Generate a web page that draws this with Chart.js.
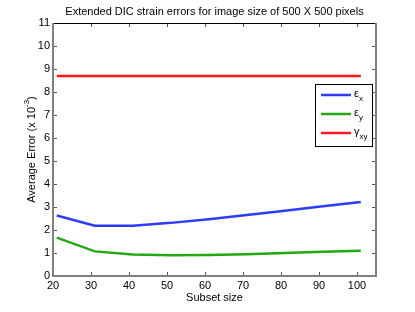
<!DOCTYPE html>
<html>
<head>
<meta charset="utf-8">
<script src="https://cdn.jsdelivr.net/npm/chart.js@4"></script>
<style>
  html, body { margin: 0; padding: 0; background: #fff; }
  #wrap { width: 415px; height: 312px; }
</style>
</head>
<body>
<div id="wrap"><canvas id="errChart" width="415" height="312"></canvas></div>
<script>
// data
const subsetSizes = [21, 31, 41, 51, 61, 71, 81, 91, 101];
const epsX = [2.63, 2.19, 2.19, 2.31, 2.47, 2.65, 2.84, 3.03, 3.22];
const epsY = [1.67, 1.07, 0.93, 0.90, 0.91, 0.95, 1.00, 1.05, 1.10];
const gammaXY = [8.70, 8.70, 8.70, 8.70, 8.70, 8.70, 8.70, 8.70, 8.70];
const xTicks = [20, 30, 40, 50, 60, 70, 80, 90, 100];
const yTicks = [0, 1, 2, 3, 4, 5, 6, 7, 8, 9, 10, 11];

const legendItems = [
    { sym: '\u03B5', sub: 'x', color: '#2b3cff' },
    { sym: '\u03B5', sub: 'y', color: '#22a811' },
    { sym: '\u03B3', sub: 'xy', color: '#ff1a1a' }
];

const FONT = '"Liberation Sans", Arial, sans-serif';

function toPoints(ys) {
    return subsetSizes.map((x, i) => ({ x: x, y: ys[i] }));
}

// frame, inward ticks, titles and the legend box, matlab style
const decorPlugin = {
    id: 'decor',
    afterDraw(chart) {
        const ctx = chart.ctx;
        const a = chart.chartArea;
        const xs = chart.scales.x;
        const ys = chart.scales.y;
        ctx.save();

        // ticks
        ctx.lineWidth = 1;
        ctx.strokeStyle = '#555';
        xTicks.forEach(v => {
            const px = Math.round(xs.getPixelForValue(v)) + 0.5;
            ctx.beginPath();
            ctx.moveTo(px, a.bottom); ctx.lineTo(px, a.bottom - 4);
            ctx.moveTo(px, a.top); ctx.lineTo(px, a.top + 4);
            ctx.stroke();
        });
        yTicks.forEach(v => {
            const py = Math.round(ys.getPixelForValue(v)) + 0.5;
            ctx.beginPath();
            ctx.moveTo(a.left, py); ctx.lineTo(a.left + 4, py);
            ctx.moveTo(a.right, py); ctx.lineTo(a.right - 4, py);
            ctx.stroke();
        });

        // box
        ctx.strokeStyle = '#000';
        ctx.lineWidth = 1;
        ctx.beginPath();
        ctx.moveTo(a.left, a.top + 0.5); ctx.lineTo(a.right, a.top + 0.5);
        ctx.stroke();
        ctx.strokeStyle = '#808080';
        ctx.lineWidth = 2;
        ctx.beginPath();
        ctx.moveTo(a.left, a.top); ctx.lineTo(a.left, a.bottom);
        ctx.lineTo(a.right, a.bottom); ctx.lineTo(a.right, a.top);
        ctx.stroke();

        // title
        ctx.fillStyle = '#000';
        ctx.font = '11px ' + FONT;
        ctx.textAlign = 'center';
        ctx.textBaseline = 'middle';
        ctx.fillText('Extended DIC strain errors for image size of 500 X 500 pixels', (a.left + a.right) / 2, 12);

        // x title
        ctx.fillText('Subset size', (a.left + a.right) / 2, 298);

        // y title with superscript
        ctx.save();
        ctx.translate(32, (a.top + a.bottom) / 2);
        ctx.rotate(-Math.PI / 2);
        const p1 = 'Average Error (x 10';
        const p2 = '-3';
        const p3 = ')';
        ctx.font = '11px ' + FONT;
        const w1 = ctx.measureText(p1).width;
        const w3 = ctx.measureText(p3).width;
        ctx.font = '8px ' + FONT;
        const w2 = ctx.measureText(p2).width;
        let sx = -(w1 + w2 + w3) / 2;
        ctx.textAlign = 'left';
        ctx.font = '11px ' + FONT;
        ctx.fillText(p1, sx, 0);
        ctx.font = '8px ' + FONT;
        ctx.fillText(p2, sx + w1, -5);
        ctx.font = '11px ' + FONT;
        ctx.fillText(p3, sx + w1 + w2, 0);
        ctx.restore();

        // legend
        const lx = 315.5, ly = 84.5, lw = 57, lh = 62;
        ctx.fillStyle = '#fff';
        ctx.fillRect(lx, ly, lw, lh);
        ctx.strokeStyle = '#000';
        ctx.lineWidth = 1;
        ctx.strokeRect(lx, ly, lw, lh);
        legendItems.forEach((it, i) => {
            const yy = 95 + i * 19;
            ctx.strokeStyle = it.color;
            ctx.lineWidth = 2.5;
            ctx.beginPath();
            ctx.moveTo(321, yy); ctx.lineTo(351, yy);
            ctx.stroke();
            ctx.fillStyle = '#000';
            ctx.textAlign = 'left';
            ctx.font = '11px ' + FONT;
            ctx.fillText(it.sym, 354, yy - 1);
            const ws = ctx.measureText(it.sym).width;
            ctx.font = '8px ' + FONT;
            ctx.fillText(it.sub, 354 + ws, yy + 4);
        });

        ctx.restore();
    }
};

const ctx = document.getElementById('errChart').getContext('2d');
new Chart(ctx, {
    type: 'line',
    data: {
        datasets: [
            { label: 'ex', data: toPoints(epsX), borderColor: legendItems[0].color, borderWidth: 2.5, pointRadius: 0, tension: 0 },
            { label: 'ey', data: toPoints(epsY), borderColor: legendItems[1].color, borderWidth: 2.5, pointRadius: 0, tension: 0 },
            { label: 'gxy', data: toPoints(gammaXY), borderColor: legendItems[2].color, borderWidth: 2.5, pointRadius: 0, tension: 0 }
        ]
    },
    options: {
        responsive: false,
        animation: false,
        layout: { padding: { top: 23, right: 39, left: 0, bottom: 0 } },
        plugins: {
            legend: { display: false },
            tooltip: { enabled: false }
        },
        scales: {
            x: {
                type: 'linear',
                min: 20,
                max: 105,
                grid: { display: false, tickLength: 0 },
                border: { display: false },
                afterBuildTicks: s => { s.ticks = xTicks.map(v => ({ value: v })); },
                afterFit: s => { s.height = 36; },
                ticks: { color: '#000', padding: 3, maxRotation: 0, font: { family: FONT, size: 11 } }
            },
            y: {
                min: 0,
                max: 11,
                grid: { display: false, tickLength: 0 },
                border: { display: false },
                afterBuildTicks: s => { s.ticks = yTicks.map(v => ({ value: v })); },
                afterFit: s => { s.width = 53; },
                ticks: { color: '#000', padding: 3, font: { family: FONT, size: 11 } }
            }
        }
    },
    plugins: [decorPlugin]
});
</script>
</body>
</html>
